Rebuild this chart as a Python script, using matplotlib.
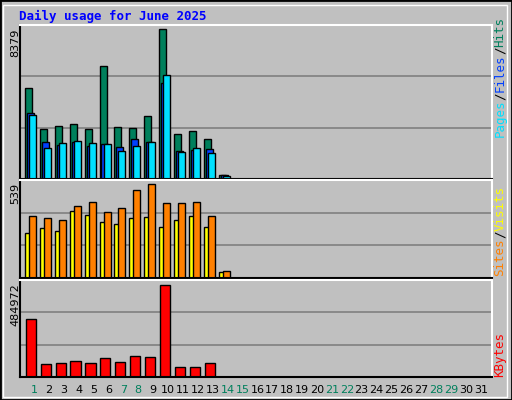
import numpy as np
import matplotlib.pyplot as plt
from matplotlib.patches import Rectangle

days = list(range(1, 32))
hits = [5095, 2774, 2944, 3057, 2774, 6341, 2887, 2831, 3510, 8379, 2491, 2661, 2208, 226]
files = [3680, 2095, 1925, 2095, 1868, 1981, 1812, 2208, 2095, 5378, 1585, 1642, 1698, 226]
pages = [3567, 1755, 2038, 2151, 2038, 1981, 1585, 1868, 2095, 5831, 1529, 1755, 1472, 170]
sites = [258, 287, 270, 387, 363, 322, 311, 346, 352, 293, 334, 357, 293, 35]
visits = [357, 346, 334, 416, 434, 381, 404, 504, 539, 428, 428, 439, 357, 41]
kbytes = [303780, 69280, 74600, 85270, 74600, 101260, 79940, 111900, 106590, 484972, 53290, 53290, 74600, 1000]
weekend = [1, 7, 8, 14, 15, 21, 22, 28, 29]

W, H = 512, 400
fig = plt.figure(figsize=(5.12, 4.0), dpi=100, facecolor='#c0c0c0')
mono = 'DejaVu Sans Mono'

# outer frame
fig.patches.append(Rectangle((0, 0), 1, 1, transform=fig.transFigure, fill=False,
                             edgecolor='black', linewidth=2))
fig.patches.append(Rectangle((3/W, 3/H), 1-8/W, 1-8/H, transform=fig.transFigure, fill=False,
                             edgecolor='white', linewidth=1))

fig.text(19/W, 1-16/H, 'Daily usage for June 2025', color='#0000ff', fontsize=9,
         fontweight='bold', family=mono, va='center')

def make_ax(top, bottom):
    ax = fig.add_axes([20/W, 1-bottom/H, 472/W, (bottom-top)/H])
    ax.set_facecolor('#c0c0c0')
    ax.set_xlim(0.06, 31.75)
    ax.set_xticks([])
    ax.set_yticks([])
    for s in ax.spines.values():
        s.set_color('white')
        s.set_linewidth(1.5)
    ax.spines['left'].set_color('black')
    ax.spines['bottom'].set_color('black')
    return ax

def grid(ax, top):
    for f in (1/3, 2/3):
        ax.axhline(top*f, color='#808080', linewidth=1.2, zorder=0)

x = np.arange(1, len(hits)+1)

# top panel
ax1 = make_ax(25, 179)
top1 = max(hits) / 148 * 152
ax1.set_ylim(0, top1)
grid(ax1, top1)
ax1.bar(x-0.6, hits, width=0.47, align='edge', color='#00805c', edgecolor='black', linewidth=1)
ax1.bar(x-0.47, files, width=0.47, align='edge', color='#0040ff', edgecolor='black', linewidth=1)
ax1.bar(x-0.33, pages, width=0.47, align='edge', color='#00e0ff', edgecolor='black', linewidth=1)
fig.text(15/W, 1-29/H, '8379', rotation=90, fontsize=8, va='top', ha='center')

# middle panel
ax2 = make_ax(180, 278)
top2 = max(visits) / 92 * 96
ax2.set_ylim(0, top2)
grid(ax2, top2)
ax2.bar(x-0.6, sites, width=0.4, align='edge', color='#ffff00', edgecolor='black', linewidth=1)
ax2.bar(x-0.33, visits, width=0.47, align='edge', color='#ff8000', edgecolor='black', linewidth=1)
fig.text(15/W, 1-183/H, '539', rotation=90, fontsize=8, va='top', ha='center')

# bottom panel
ax3 = make_ax(280, 377)
top3 = max(kbytes) / 91 * 96
ax3.set_ylim(0, top3)
grid(ax3, top3)
ax3.bar(x-0.55, kbytes, width=0.68, align='edge', color='#ff0000', edgecolor='black', linewidth=1)
fig.text(15/W, 1-283/H, '484972', rotation=90, fontsize=8, va='top', ha='center')

# day labels
for d in days:
    ax3.text(d, -0.13, str(d), transform=ax3.get_xaxis_transform(), ha='center',
             va='center', fontsize=8, color='#00805c' if d in weekend else 'black')

# right-side legends (read bottom to top)
def legend(parts, y_bottom):
    y = y_bottom
    for txt, col in parts:
        fig.text(500/W, y/H, txt, rotation=90, color=col, fontsize=9, family=mono,
                 ha='center', va='bottom')
        y += len(txt) * 7.5
legend([('Pages', '#00e0ff'), ('/', 'black'), ('Files', '#0040ff'), ('/', 'black'),
        ('Hits', '#00805c')], 400-137)
legend([('Sites', '#ff8000'), ('/', 'black'), ('Visits', '#ffff00')], 400-276)
legend([('KBytes', '#ff0000')], 400-377)

plt.savefig('out.png', dpi=100, facecolor=fig.get_facecolor())
